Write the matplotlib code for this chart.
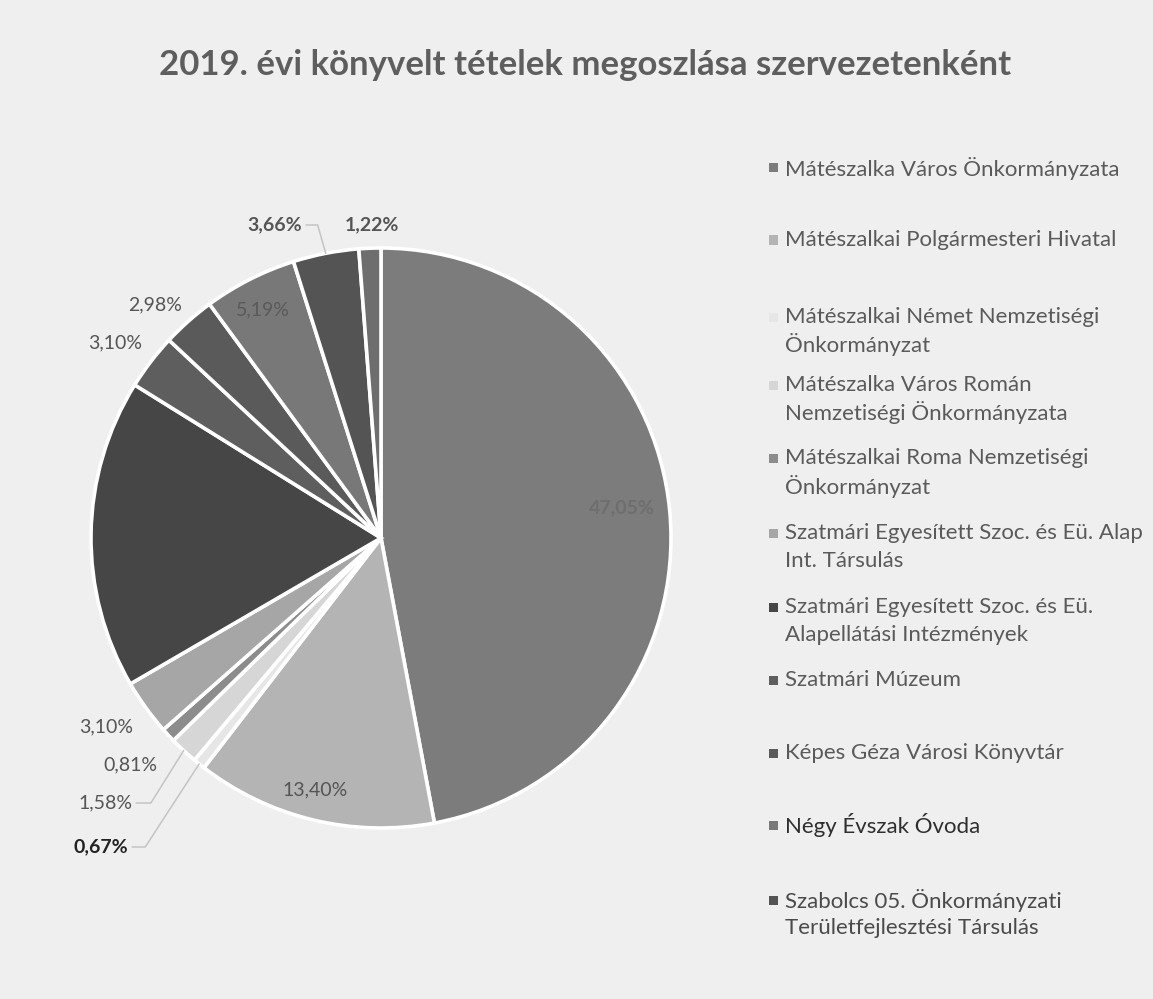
import matplotlib
matplotlib.use("Agg")
import matplotlib.pyplot as plt
from matplotlib.patches import Rectangle
import numpy as np

plt.rcParams['font.family'] = ['Lato', 'DejaVu Sans']

# ---------------- data ----------------
title = "2019. évi könyvelt tételek megoszlása szervezetenként"
categories = [
    "Mátészalka Város Önkormányzata",
    "Mátészalkai Polgármesteri Hivatal",
    "Mátészalkai Német Nemzetiségi\nÖnkormányzat",
    "Mátészalka Város Román\nNemzetiségi Önkormányzata",
    "Mátészalkai Roma Nemzetiségi\nÖnkormányzat",
    "Szatmári Egyesített Szoc. és Eü. Alap\nInt. Társulás",
    "Szatmári Egyesített Szoc. és Eü.\nAlapellátási Intézmények",
    "Szatmári Múzeum",
    "Képes Géza Városi Könyvtár",
    "Négy Évszak Óvoda",
    "Szabolcs 05. Önkormányzati\nTerületfejlesztési Társulás",
]
# percentage shares, clockwise from 12 o'clock (12th slice has no legend entry)
values = [47.05, 13.40, 0.67, 1.58, 0.81, 3.10, 17.24, 3.10, 2.98, 5.19, 3.66, 1.22]
show_label = [True, True, True, True, True, True, False, True, True, True, True, True]

# ---------------- style / layout ----------------
colors = ['#7c7c7c', '#b4b4b4', '#e6e6e6', '#d6d6d6', '#8c8c8c', '#a6a6a6',
          '#464646', '#5e5e5e', '#5a5a5a', '#787878', '#545454', '#6e6e6e']
BG = '#efefef'
W, H = 1153, 999
CX, CY, R = 381, 538, 290          # pie centre / radius in pixels
AX_X0, AX_X1, AX_Y0, AX_Y1 = 0, 760, 150, 930

# label placement: (pixel x, pixel y, horizontal alignment, weight, color, leader angleB or None)
label_layout = [
    (622, 508, 'center', 'bold', '#6e6e6e', None),
    (315, 790, 'center', 'normal', '#555555', None),
    (128, 847, 'right', 'bold', '#222222', 237),
    (132, 803, 'right', 'normal', '#555555', 238),
    (157, 765, 'right', 'normal', '#555555', None),
    (133, 727, 'right', 'normal', '#555555', None),
    None,
    (142, 343, 'right', 'normal', '#555555', None),
    (182, 305, 'right', 'normal', '#555555', None),
    (263, 310, 'center', 'normal', '#5a5a5a', None),
    (302, 225, 'right', 'bold', '#555555', 106),
    (372, 225, 'center', 'bold', '#555555', None),
]
legend_y = [168, 240, 317, 385, 458, 533, 607, 680, 753, 825, 900]
legend_text_color = ['#5a5a5a'] * 9 + ['#2e2e2e', '#4a4a4a']
LINE_GAP = 28


def px2data(px, py):
    return (px - CX) / R, (CY - py) / R


fig = plt.figure(figsize=(W / 100, H / 100), dpi=100, facecolor=BG)
ax = fig.add_axes([AX_X0 / W, (H - AX_Y1) / H, (AX_X1 - AX_X0) / W, (AX_Y1 - AX_Y0) / H])
ax.set_facecolor(BG)

wedges, _ = ax.pie(values, colors=colors, startangle=90, counterclock=False,
                   radius=1, center=(0, 0),
                   wedgeprops=dict(edgecolor='white', linewidth=2.6))
x0, y0 = px2data(AX_X0, AX_Y1)
x1, y1 = px2data(AX_X1, AX_Y0)
ax.set_xlim(x0, x1)
ax.set_ylim(y0, y1)
ax.set_aspect('auto')
ax.axis('off')

for w, v, show, lay in zip(wedges, values, show_label, label_layout):
    if not show or lay is None:
        continue
    px, py, ha, weight, col, angB = lay
    txt = f"{v:.2f}%".replace('.', ',')
    tx, ty = px2data(px, py)
    if angB is None:
        ax.text(tx, ty, txt, ha=ha, va='center', fontsize=14, fontweight=weight, color=col)
    else:
        mid = np.deg2rad((w.theta1 + w.theta2) / 2)
        ex, ey = np.cos(mid), np.sin(mid)
        ax.annotate(txt, xy=(ex, ey), xytext=(tx, ty), textcoords='data',
                    ha=ha, va='center', fontsize=14, fontweight=weight, color=col,
                    arrowprops=dict(arrowstyle='-', color='#c4c4c4', lw=1.1,
                                    shrinkA=1, shrinkB=0,
                                    connectionstyle=f"angle,angleA=0,angleB={angB},rad=0",
                                    relpos=(1, 0.5) if ha == 'right' else (0.5, 0)))

# title
fig.text(585 / W, 1 - 65 / H, title, ha='center', va='center', fontsize=25,
         fontweight='bold', color='#5e5e5e')

# legend (manual, Excel-like spacing)
for i, (name, y) in enumerate(zip(categories, legend_y)):
    sq = 9
    fig.patches.append(Rectangle(((773 - sq / 2) / W, 1 - (y + sq / 2) / H), sq / W, sq / H,
                                 transform=fig.transFigure, facecolor=colors[i],
                                 edgecolor='none'))
    for j, line in enumerate(name.split('\n')):
        fig.text(785 / W, 1 - (y + j * LINE_GAP) / H, line, ha='left', va='center',
                 fontsize=16, color=legend_text_color[i])

fig.savefig('out.png', dpi=100, facecolor=BG)
